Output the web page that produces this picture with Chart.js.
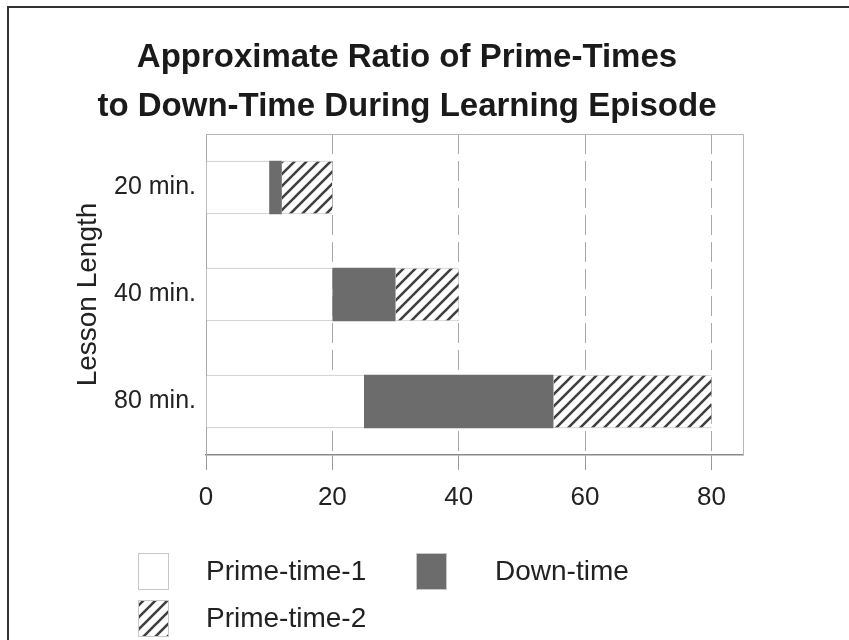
<!DOCTYPE html>
<html>
<head>
<meta charset="utf-8">
<script src="https://cdn.jsdelivr.net/npm/chart.js@4.4.1/dist/chart.umd.min.js"></script>
<style>
  html, body { margin: 0; padding: 0; background: #fff; }
  #wrap { width: 849px; height: 640px; position: relative; }
</style>
</head>
<body>
<div id="wrap"><canvas id="ratioChart"></canvas></div>
<script>
const lessons = ["20 min.", "40 min.", "80 min."];
const primeTime1 = [10, 20, 25];
const downTime = [2, 10, 30];
const primeTime2 = [8, 10, 25];
const xTicks = [0, 20, 40, 60, 80];

const fontFam = "'Liberation Sans', Arial, sans-serif";

// diagonal hatch for prime-time-2
const hatch = () => {
  const c = document.createElement("canvas");
  const s = 12;
  c.width = s;
  c.height = s;
  const g = c.getContext("2d");
  g.fillStyle = "#fff";
  g.fillRect(0, 0, s, s);
  g.strokeStyle = "#404040";
  g.lineWidth = 2.6;
  g.beginPath();
  g.moveTo(-2, s + 2);
  g.lineTo(s + 2, -2);
  g.moveTo(-2, 2);
  g.lineTo(2, -2);
  g.moveTo(s - 2, s + 2);
  g.lineTo(s + 2, s - 2);
  g.stroke();
  return g.createPattern(c, "repeat");
};
const hatchFill = hatch();

// outer frame, plot box and the legend
const decor = {
  id: "decor",
  beforeDraw(chart) {
    const ctx = chart.ctx;
    ctx.save();
    ctx.strokeStyle = "#333";
    ctx.lineWidth = 2;
    ctx.beginPath();
    ctx.moveTo(8, 640);
    ctx.lineTo(8, 7);
    ctx.lineTo(849, 7);
    ctx.stroke();
    ctx.restore();
  },
  afterDraw(chart) {
    const ctx = chart.ctx;
    const a = chart.chartArea;
    ctx.save();
    ctx.strokeStyle = "#b5b5b5";
    ctx.lineWidth = 1;
    ctx.beginPath();
    ctx.moveTo(a.left, a.top + 0.5);
    ctx.lineTo(a.right + 0.5, a.top + 0.5);
    ctx.lineTo(a.right + 0.5, a.bottom);
    ctx.stroke();

    // legend, two columns
    const cols = [138, 416];
    const rows = [553, 600];
    ctx.font = "28px " + fontFam;
    ctx.textBaseline = "middle";
    chart.data.datasets.forEach((ds, i) => {
      const x = cols[i % 2];
      const y = rows[Math.floor(i / 2)];
      ctx.fillStyle = ds.backgroundColor;
      ctx.fillRect(x, y, 30, 36);
      ctx.strokeStyle = "#c8c8c8";
      ctx.strokeRect(x + 0.5, y + 0.5, 30, 36);
      ctx.fillStyle = "#222";
      ctx.fillText(ds.label, x + (i === 1 ? 79 : 68), y + 19);
    });
    ctx.restore();
  }
};

new Chart("ratioChart", {
  type: "bar",
  data: {
    labels: lessons,
    datasets: [
      {
        label: "Prime-time-1",
        data: primeTime1,
        backgroundColor: "#ffffff",
        borderColor: "#b8b8b8",
        borderWidth: { top: 1, bottom: 1, left: 0, right: 0 },
        borderSkipped: false
      },
      {
        label: "Down-time",
        data: downTime,
        backgroundColor: "#6c6c6c",
        borderWidth: 0
      },
      {
        label: "Prime-time-2",
        data: primeTime2,
        backgroundColor: hatchFill,
        borderColor: "#c0c0c0",
        borderWidth: { top: 1, bottom: 1, left: 0, right: 0 },
        borderSkipped: false
      }
    ]
  },
  plugins: [decor],
  options: {
    indexAxis: "y",
    responsive: true,
    maintainAspectRatio: false,
    animation: false,
    categoryPercentage: 1,
    barPercentage: 0.5,
    layout: { padding: { left: 71, right: 106, top: 0, bottom: 115 } },
    plugins: {
      legend: { display: false },
      tooltip: { enabled: false },
      title: {
        display: true,
        text: ["Approximate Ratio of Prime-Times", "to Down-Time During Learning Episode"],
        color: "#1a1a1a",
        font: { family: fontFam, size: 33, weight: "bold", lineHeight: 1.5 },
        padding: { top: 33, bottom: 2 }
      }
    },
    scales: {
      x: {
        stacked: true,
        min: 0,
        max: 85,
        afterBuildTicks: (scale) => {
          scale.ticks = xTicks.map((v) => ({ value: v }));
        },
        afterFit: (scale) => {
          scale.height = 70;
        },
        ticks: {
          color: "#222",
          padding: 12,
          font: { family: fontFam, size: 26 }
        },
        grid: {
          color: "#a8a8a8",
          tickColor: "#999",
          tickLength: 15,
          lineWidth: 1
        },
        border: { color: "#8a8a8a", width: 1.5, dash: [20, 7] }
      },
      y: {
        stacked: true,
        afterFit: (scale) => {
          scale.width = 135;
        },
        ticks: {
          color: "#222",
          padding: 2,
          font: { family: fontFam, size: 25 }
        },
        grid: { display: false },
        border: { color: "#a8a8a8", width: 1 },
        title: {
          display: true,
          text: "Lesson Length",
          color: "#222",
          padding: 0,
          font: { family: fontFam, size: 28 }
        }
      }
    }
  }
});
</script>
</body>
</html>
